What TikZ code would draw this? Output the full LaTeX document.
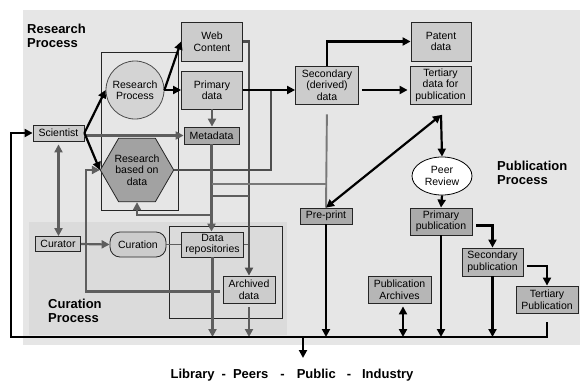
\documentclass[tikz,border=0pt]{standalone}
\usepackage{fontspec}
\setmainfont{Liberation Sans}
\usetikzlibrary{arrows.meta,shapes.geometric}

\definecolor{bgmain}{HTML}{E6E6E6}
\definecolor{bgcur}{HTML}{DBDBDB}
\definecolor{boxlight}{HTML}{CCCCCC}
\definecolor{boxcircle}{HTML}{D4D4D4}
\definecolor{boxhex}{HTML}{A2A2A2}
\definecolor{boxdark}{HTML}{AAAAAA}
\definecolor{boxmid}{HTML}{B6B6B6}
\definecolor{linegray}{HTML}{5E5E5E}
\definecolor{linedark}{HTML}{4E4E4E}
\definecolor{linelight}{HTML}{787878}

\begin{document}
\begin{tikzpicture}
  [
    x=1pt, y=-1pt,
    every node/.style={font=\fontsize{10.5}{11.5}\selectfont, align=center, inner sep=1pt},
    lbox/.style={rectangle, draw=black!85, line width=0.8pt, fill=boxlight},
    dbox/.style={lbox, fill=boxdark},
    mbox/.style={lbox, fill=boxmid},
    heading/.style={font=\fontsize{13}{14}\selectfont\bfseries, align=left, anchor=west},
    frame/.style={draw=black!85, line width=0.8pt},
    blk/.style={draw=black, line width=2.2pt, >={Triangle[length=8pt,width=8pt]}, ->},
    gry/.style={draw=linegray, line width=2.2pt, >={Triangle[length=8pt,width=8pt]}, ->},
    dgry/.style={gry, draw=linedark, line width=2.6pt},
    lgry/.style={draw=linelight, line width=1.9pt},
    tgry/.style={draw=linegray, line width=1pt}
  ]
  \useasboundingbox (0,0) rectangle (580,380);
  \fill[bgmain] (23,10) rectangle (580,345);
  \fill[bgcur] (29,222) rectangle (287,335);
  \draw[frame] (101,52) rectangle (178,210);
  \draw[frame] (169,226) rectangle (282,318);

  \node[heading] (rphead) at (26,36) {Research\\Process};
  \node[heading] (cphead) at (47,310.5) {Curation\\Process};
  \node[heading] (pphead) at (496,172.5) {Publication\\Process};
  \node[font=\fontsize{13}{14}\selectfont\bfseries] (audience) at (292,375)
    {Library\hspace{7pt}-\hspace{7pt}Peers\hspace{12pt}-\hspace{12pt}Public\hspace{11pt}-\hspace{11pt}Industry};

  \node[lbox, minimum width=51pt, minimum height=16pt] (sci) at (58.5,133) {Scientist};
  \node[lbox, minimum width=45pt, minimum height=15pt] (cur) at (58,244) {Curator};
  \node[circle, draw=black!70, line width=0.8pt, fill=boxcircle, minimum size=58pt, inner sep=0pt] (rp) at (135,90) {Research\\Process};
  \node[regular polygon, regular polygon sides=6, minimum size=70pt, inner sep=0pt,
    draw=black!85, line width=0.8pt, fill=boxhex] (rbd) at (137,170) {Research\\based on\\data};
  \node[lbox, minimum width=61pt, minimum height=39pt] (web) at (212,41.5) {Web\\Content};
  \node[lbox, minimum width=61pt, minimum height=38pt] (prim) at (212,90) {Primary\\data};
  \node[dbox, minimum width=55pt, minimum height=17pt] (meta) at (211.5,135.5) {Metadata};
  \node[lbox, minimum width=63pt, minimum height=38pt] (sec) at (327,85) {Secondary\\(derived)\\data};
  \node[lbox, minimum width=60pt, minimum height=39pt] (pat) at (441,41.5) {Patent\\data};
  \node[lbox, minimum width=61pt, minimum height=38pt] (ter) at (440.5,85) {Tertiary\\data for\\publication};
  \node[ellipse, draw=black, line width=0.8pt, fill=white, minimum width=60pt, minimum height=38pt, inner sep=0pt] (peer) at (442,176) {Peer\\Review};
  \node[dbox, minimum width=52pt, minimum height=16pt] (pre) at (326,216) {Pre-print};
  \node[dbox, minimum width=62pt, minimum height=27pt] (ppub) at (441,221.5) {Primary\\publication};
  \node[mbox, minimum width=61pt, minimum height=28pt] (spub) at (492.5,262) {Secondary\\publication};
  \node[mbox, minimum width=62pt, minimum height=27pt] (tpub) at (547,299.5) {Tertiary\\Publication};
  \node[mbox, minimum width=63pt, minimum height=27pt] (parch) at (399.5,289.5) {Publication\\Archives};
  \node[lbox, rounded corners=10pt, minimum width=56pt, minimum height=25pt] (curation) at (138,244.5) {Curation};
  \node[lbox, minimum width=62pt, minimum height=25pt] (drep) at (212.5,244.5) {Data\\repositories};
  \node[lbox, minimum width=52pt, minimum height=27pt] (arch) at (249,289.5) {Archived\\data};

  \coordinate (busL) at (11,337);
  \coordinate (busout) at (303,337);
  \coordinate (libtip) at (303,358);
  \coordinate (aj) at (403,337);
  \coordinate (tj) at (441,115);
  \coordinate (pj) at (271,90);
  \coordinate (mj) at (meta.south |- 0,215);
  \coordinate (sj) at (sec.south |- 0,184);
  \coordinate (wj) at (249,196);
  \coordinate (dj) at (249,244.5);

  \draw[gry, <->, shorten <=3pt] (sci.south) -- (sci.south |- cur.north);
  \draw[gry] (meta.west -| sci.east) -- (meta.west);
  \draw[gry] (prim.south) -- (prim.south |- meta.north);
  \draw[gry] (cur.east) -- (curation.west);
  \draw[tgry] (curation.east) -- (drep.west);
  \draw[tgry] (drep.east) -- (dj);
  \draw[gry, shorten <=3pt] ([yshift=-2pt]arch.west) -| ([xshift=-14pt]rbd.west) -- (rbd.west);
  \draw[dgry, -] (rbd.east) -| (pj);
  \draw[gry] (meta.south) -- (meta.south |- drep.north);
  \draw[gry] (mj) -| (rbd.south);
  \draw[dgry] (web.east) -| (arch.north);
  \draw[lgry, shorten <=10pt] (sec.south) -- (pre.north);
  \draw[lgry] (sj) -- (sj -| meta.south);
  \draw[gry, -] (wj -| meta.south) -- (wj);
  \draw[gry] (drep.south) -- (drep.south |- busL);
  \draw[gry, shorten <=4pt] (arch.south) -- (arch.south |- busL);

  \draw[blk] (sci.east) -- (rp.west);
  \draw[blk] (sci.east) -- (rbd.west);
  \draw[blk] (rp.east) -- (web.west);
  \draw[blk] (rp.east) -- (prim.west);
  \draw[blk] (prim.east) -- (prim.east -| sec.west);
  \draw[blk] (sec.north) |- (pat.west);
  \draw[blk, shorten <=3pt, shorten >=2pt] ([yshift=-5pt]sec.east) -- ([yshift=-5pt]ter.west);
  \draw[blk] (tj) -- (peer.north);
  \draw[blk] (peer.south) -- (ppub.north);
  \draw[blk, shorten <=4pt] ([yshift=-4pt]ppub.east) -| (spub.north);
  \draw[blk, shorten <=4pt] ([yshift=-4pt]spub.east) -| (tpub.north);
  \draw[blk, <->] (pre.north) -- (tj);
  \draw[blk] (pre.south) -- (pre.south |- busL);
  \draw[blk] (ppub.south) -- (ppub.south |- busL);
  \draw[blk] (spub.south) -- (spub.south |- busL);
  \draw[blk, <->, shorten <=3pt] (aj |- parch.south) -- (aj);
  \draw[blk, shorten <=9pt] (tpub.south) |- (busL) |- (sci.west);
  \draw[blk] (busout) -- (libtip);
\end{tikzpicture}
\end{document}
